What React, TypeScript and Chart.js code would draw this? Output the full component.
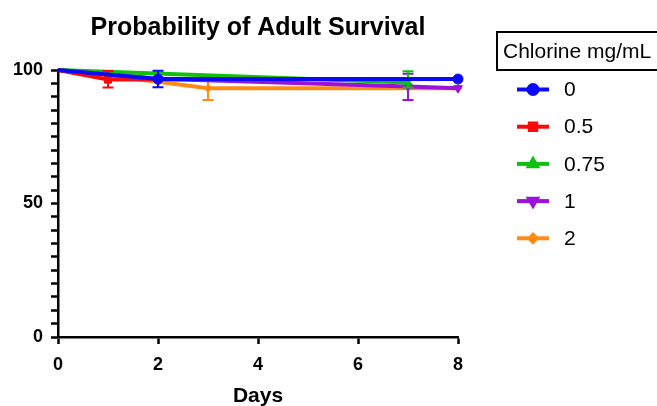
import React, { useEffect, useRef } from 'react';
import { Chart, registerables } from 'chart.js';
import { drawPoint } from 'chart.js/helpers';

Chart.register(...registerables);

const chartTitle = 'Probability of Adult Survival';
const xTitle = 'Days';
const legendTitle = 'Chlorine mg/mL';
const seriesLabels = ['0', '0.5', '0.75', '1', '2'];
const seriesColors = ['#0A0AF8', '#F80A0A', '#10C010', '#9C12D8', '#FF8A14'];
const pointStyles = ['circle', 'rect', 'triangle', 'triangle', 'rectRot'];
const pointRotations = [0, 0, 0, 180, 0];
const pointSizes = [5, 5, 4.5, 5, 4];
const legendSizes = [4.5, 4.5, 4.5, 4.5, 3.5];

// series: days, survival (%), lower and upper error bounds
const days0 = [0, 2, 8];
const surv0 = [100, 96.6, 96.6];
const lo0 = [null, 93.5, null];
const hi0 = [null, 99.7, null];

const days05 = [0, 1, 8];
const surv05 = [100, 96.4, 96.6];
const lo05 = [null, 93.4, null];
const hi05 = [null, 99.6, null];

const days075 = [0, 7];
const surv075 = [100, 95.3];
const lo075 = [null, 93.4];
const hi075 = [null, 99.5];

const days1 = [0, 2, 7, 8];
const surv1 = [100, 96.7, 93.8, 93.2];
const lo1 = [null, null, 88.8, null];
const hi1 = [null, null, 98.6, null];

const days2 = [0, 2, 3, 8];
const surv2 = [100, 95.6, 93.2, 93.2];
const lo2 = [null, null, 88.8, null];
const hi2 = [null, null, 97.5, null];

const allDays = [days0, days05, days075, days1, days2];
const allSurv = [surv0, surv05, surv075, surv1, surv2];
const allLo = [lo0, lo05, lo075, lo1, lo2];
const allHi = [hi0, hi05, hi075, hi1, hi2];

const xTicks = [0, 2, 4, 6, 8];
const yLabelled = [0, 50, 100];

const FONT = '"Liberation Sans", Arial, sans-serif';

const errorBarPlugin = {
  id: 'errorBars',
  afterDatasetDraw(chart: any, args: any) {
    const i = args.index;
    const ctx = chart.ctx;
    const xs = chart.scales.x;
    const ys = chart.scales.y;
    const lo = allLo[i];
    const hi = allHi[i];
    ctx.save();
    ctx.strokeStyle = seriesColors[i];
    ctx.lineWidth = 2;
    for (let j = 0; j < lo.length; j++) {
      if (lo[j] == null || hi[j] == null) continue;
      const x = xs.getPixelForValue(allDays[i][j]);
      const y1 = ys.getPixelForValue(lo[j] as number);
      const y2 = ys.getPixelForValue(hi[j] as number);
      ctx.beginPath();
      ctx.moveTo(x, y1);
      ctx.lineTo(x, y2);
      ctx.moveTo(x - 5.5, y1);
      ctx.lineTo(x + 5.5, y1);
      ctx.moveTo(x - 5.5, y2);
      ctx.lineTo(x + 5.5, y2);
      ctx.stroke();
    }
    ctx.restore();
  },
};

const boxLegendPlugin = {
  id: 'boxLegend',
  afterDraw(chart: any) {
    const ctx = chart.ctx;
    ctx.save();
    ctx.lineWidth = 2;
    ctx.strokeStyle = '#000';
    ctx.strokeRect(497, 32, 220, 38);
    ctx.fillStyle = '#000';
    ctx.font = `21px ${FONT}`;
    ctx.textBaseline = 'middle';
    ctx.textAlign = 'left';
    ctx.fillText(legendTitle, 503, 52);
    chart.data.datasets.forEach((ds: any, i: number) => {
      const y = 89.5 + i * 37.2;
      ctx.strokeStyle = seriesColors[i];
      ctx.fillStyle = seriesColors[i];
      ctx.lineWidth = 4;
      ctx.beginPath();
      ctx.moveTo(517, y);
      ctx.lineTo(549, y);
      ctx.stroke();
      drawPoint(
        ctx,
        {
          pointStyle: pointStyles[i],
          rotation: pointRotations[i],
          radius: legendSizes[i],
          borderWidth: 1,
        } as any,
        533,
        y
      );
      ctx.fillStyle = '#000';
      ctx.font = `21px ${FONT}`;
      ctx.fillText(ds.label, 564, y + 1);
    });
    ctx.restore();
  },
};

export default function App() {
  const ref = useRef<HTMLCanvasElement | null>(null);

  useEffect(() => {
    if (!ref.current) return;
    const datasets = seriesLabels.map((label, i) => ({
      label,
      data: allDays[i].map((d, j) => ({ x: d, y: allSurv[i][j] })),
      borderColor: seriesColors[i],
      backgroundColor: seriesColors[i],
      borderWidth: 4,
      pointStyle: pointStyles[i] as any,
      rotation: pointRotations[i],
      pointRadius: (c: any) => (c.raw && c.raw.x === 0 ? 0 : pointSizes[i]),
      pointBorderWidth: 1,
      pointHoverRadius: pointSizes[i],
      tension: 0,
      clip: false as any,
    }));

    const chart = new Chart(ref.current, {
      type: 'line',
      data: { datasets },
      plugins: [errorBarPlugin, boxLegendPlugin],
      options: {
        animation: false,
        responsive: true,
        maintainAspectRatio: false,
        layout: { padding: { left: 0, right: 199, top: 0, bottom: 0 } },
        plugins: {
          legend: { display: false },
          tooltip: { enabled: false },
          title: {
            display: true,
            text: chartTitle,
            fullSize: false,
            color: '#000',
            font: { family: FONT, size: 25, weight: 'bold' },
            padding: { top: 13, bottom: 27 },
          },
        },
        scales: {
          x: {
            type: 'linear',
            min: 0,
            max: 8,
            afterFit: (s: any) => {
              s.height = 69;
            },
            afterBuildTicks: (s: any) => {
              s.ticks = xTicks.map((v) => ({ value: v }));
            },
            border: { display: true, color: '#000', width: 2.5 },
            grid: {
              drawOnChartArea: false,
              drawTicks: true,
              tickLength: 7,
              tickWidth: 2.5,
              tickColor: '#000',
            },
            ticks: {
              color: '#000',
              font: { family: FONT, size: 18, weight: 'bold' },
              padding: 10,
              maxRotation: 0,
            },
            title: {
              display: true,
              text: xTitle,
              color: '#000',
              font: { family: FONT, size: 21, weight: 'bold' },
              padding: { top: 0, bottom: -3 },
            },
          },
          y: {
            type: 'linear',
            min: 0,
            max: 100,
            afterFit: (s: any) => {
              s.width = 58;
            },
            border: { display: true, color: '#000', width: 2.5 },
            grid: {
              drawOnChartArea: false,
              drawTicks: true,
              tickLength: 7,
              tickWidth: 2.5,
              tickColor: '#000',
            },
            ticks: {
              stepSize: 5,
              autoSkip: false,
              color: '#000',
              font: { family: FONT, size: 18, weight: 'bold' },
              padding: 8,
              callback: (v: any) => (yLabelled.includes(Number(v)) ? String(v) : ''),
            },
          },
        },
      },
    });
    return () => chart.destroy();
  }, []);

  return (
    <div style={{ position: 'fixed', left: 0, top: 0, width: 657, height: 406, background: '#fff' }}>
      <canvas ref={ref} />
    </div>
  );
}
